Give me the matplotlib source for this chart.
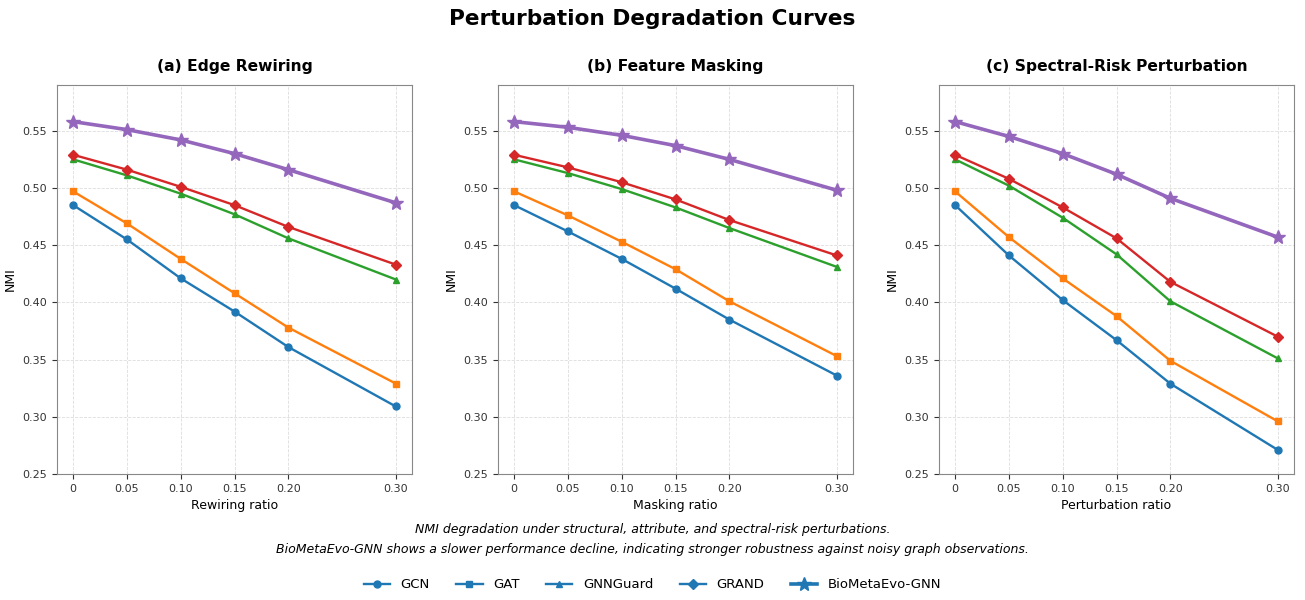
import matplotlib
matplotlib.use("Agg")
import matplotlib.pyplot as plt
from matplotlib.lines import Line2D

ratios = [0, 0.05, 0.10, 0.15, 0.20, 0.30]
tick_labels = ["0", "0.05", "0.10", "0.15", "0.20", "0.30"]
methods = ["GCN", "GAT", "GNNGuard", "GRAND", "BioMetaEvo-GNN"]

# (a) edge rewiring
edge_gcn = [0.485, 0.455, 0.421, 0.392, 0.361, 0.309]
edge_gat = [0.497, 0.469, 0.438, 0.408, 0.378, 0.329]
edge_guard = [0.525, 0.511, 0.495, 0.477, 0.456, 0.420]
edge_grand = [0.529, 0.516, 0.501, 0.485, 0.466, 0.433]
edge_ours = [0.558, 0.551, 0.542, 0.530, 0.516, 0.487]

# (b) feature masking
mask_gcn = [0.485, 0.462, 0.438, 0.412, 0.385, 0.336]
mask_gat = [0.497, 0.476, 0.453, 0.429, 0.401, 0.353]
mask_guard = [0.525, 0.513, 0.499, 0.483, 0.465, 0.431]
mask_grand = [0.529, 0.518, 0.505, 0.490, 0.472, 0.441]
mask_ours = [0.558, 0.553, 0.546, 0.537, 0.525, 0.498]

# (c) spectral-risk perturbation
spec_gcn = [0.485, 0.441, 0.402, 0.367, 0.329, 0.271]
spec_gat = [0.497, 0.457, 0.421, 0.388, 0.349, 0.296]
spec_guard = [0.525, 0.502, 0.474, 0.442, 0.401, 0.351]
spec_grand = [0.529, 0.508, 0.483, 0.456, 0.418, 0.370]
spec_ours = [0.558, 0.545, 0.530, 0.512, 0.491, 0.457]

panels = [
    ("(a) Edge Rewiring", "Rewiring ratio", [edge_gcn, edge_gat, edge_guard, edge_grand, edge_ours]),
    ("(b) Feature Masking", "Masking ratio", [mask_gcn, mask_gat, mask_guard, mask_grand, mask_ours]),
    ("(c) Spectral-Risk Perturbation", "Perturbation ratio", [spec_gcn, spec_gat, spec_guard, spec_grand, spec_ours]),
]

colors = ["#1f77b4", "#ff7f0e", "#2ca02c", "#d62728", "#9467bd"]
markers = ["o", "s", "^", "D", "*"]

fig = plt.figure(figsize=(13.05, 6), dpi=100)
lefts = [57, 498, 939]
for k, (title, xlabel, series) in enumerate(panels):
    ax = fig.add_axes([lefts[k] / 1305, 1 - 474 / 600, 355 / 1305, 389 / 600])
    for i, vals in enumerate(series):
        if i == 4:
            ax.plot(ratios, vals, color=colors[i], marker=markers[i], lw=2.6, ms=10)
        else:
            ax.plot(ratios, vals, color=colors[i], marker=markers[i], lw=1.7, ms=5)
    ax.set_ylim(0.25, 0.59)
    ax.set_xticks(ratios)
    ax.set_xticklabels(tick_labels)
    ax.tick_params(labelsize=8, colors="#333333")
    ax.grid(True, linestyle="--", color="#dddddd", lw=0.6)
    for s in ax.spines.values():
        s.set_color("#888888")
    ax.set_title(title, fontsize=11.2, fontweight="bold", pad=10)
    ax.set_xlabel(xlabel, fontsize=9)
    ax.set_ylabel("NMI", fontsize=9)

fig.text(0.5, 1 - 19 / 600, "Perturbation Degradation Curves", ha="center", va="center",
         fontsize=15.6, fontweight="bold")
fig.text(0.5, 1 - 529 / 600, "NMI degradation under structural, attribute, and spectral-risk perturbations.",
         ha="center", va="center", fontsize=9, style="italic")
fig.text(0.5, 1 - 549 / 600, "BioMetaEvo-GNN shows a slower performance decline, indicating stronger robustness against noisy graph observations.",
         ha="center", va="center", fontsize=9, style="italic")

handles = []
for i, name in enumerate(methods):
    if i == 4:
        handles.append(Line2D([], [], color="#1f77b4", marker="*", lw=2.6, ms=10, label=name))
    else:
        handles.append(Line2D([], [], color="#1f77b4", marker=markers[i], lw=1.7, ms=5, label=name))
fig.legend(handles=handles, loc="center", bbox_to_anchor=(0.5, 1 - 585 / 600), ncol=5,
           frameon=False, fontsize=9.5, columnspacing=2.0)

fig.savefig("out.png", dpi=100)
